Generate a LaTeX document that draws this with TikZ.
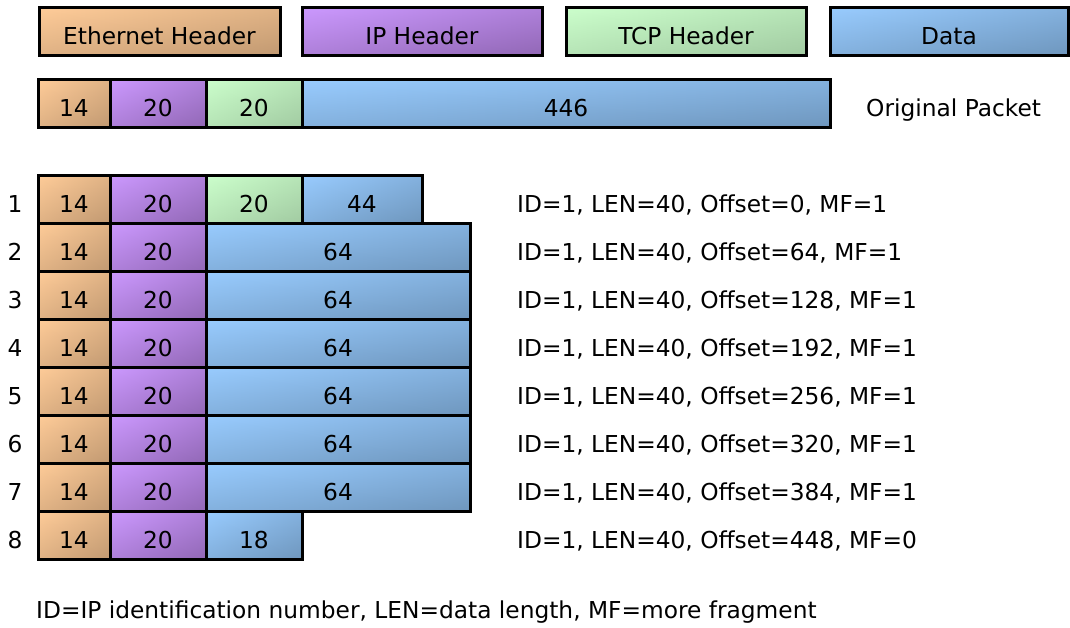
\documentclass[tikz,border=0pt]{standalone}
\usepackage{fontspec}
\setmainfont{DejaVu Sans}
\definecolor{ethlight}{HTML}{FFCC99}
\definecolor{ethdark}{HTML}{C29A72}
\definecolor{iplight}{HTML}{CC99FF}
\definecolor{ipdark}{HTML}{9268B6}
\definecolor{tcplight}{HTML}{CCFFCC}
\definecolor{tcpdark}{HTML}{A2CBA2}
\definecolor{datlight}{HTML}{99CCFF}
\definecolor{datdark}{HTML}{6F97BE}
\begin{document}
\begin{tikzpicture}[x=1pt,y=-1pt,
    every node/.style={font=\fontsize{23.3}{28}\selectfont,text height=30pt,text depth=4pt,inner sep=0pt},
    twotone/.style 2 args={path picture={
        \shade[left color=#1,right color=#2] (path picture bounding box.south west) rectangle (path picture bounding box.north east);
        \shade[top color=#1,bottom color=#2,opacity=.5] (path picture bounding box.south west) rectangle (path picture bounding box.north east);}},
    cell/.style={draw,line width=3pt,minimum height=48pt},
    eth/.style={cell,twotone={ethlight}{ethdark}},
    ip/.style={cell,twotone={iplight}{ipdark}},
    tcp/.style={cell,twotone={tcplight}{tcpdark}},
    dat/.style={cell,twotone={datlight}{datdark}}]
\useasboundingbox (0,0) rectangle (1070,627);
%Legend
    \node[eth,minimum width=241pt] (leth) at (159.5,31) {Ethernet Header};
    \node[ip,minimum width=240pt] (lip) at (422,31) {IP Header};
    \node[tcp,minimum width=240pt] (ltcp) at (686,31) {TCP Header};
    \node[dat,minimum width=238pt] (ldata) at (949,31) {Data};
%Original packet
    \node[eth,minimum width=72pt] (oeth) at (74,103) {14};
    \node[ip,minimum width=96pt] (oip) at (158,103) {20};
    \node[tcp,minimum width=96pt] (otcp) at (254,103) {20};
    \node[dat,minimum width=528pt] (odata) at (566,103) {446};
    \node[anchor=west] (orig) at (866,103) {Original Packet};
%Fragments: number, ethernet and ip header, info text
    \foreach \r in {1,...,8}
        {
        \pgfmathsetmacro\yc{199+48*(\r-1)}
        \pgfmathtruncatemacro\off{64*(\r-1)}
        \pgfmathtruncatemacro\mf{\r<8}
        \node (n\r) at (15,\yc) {\r};
        \node[eth,minimum width=72pt] (f\r-eth) at (74,\yc) {14};
        \node[ip,minimum width=96pt] (f\r-ip) at (158,\yc) {20};
        \node[anchor=west] (i\r) at (517,\yc) {ID=1, LEN=40, Offset=\off, MF=\mf};
    }
%Data parts of the fragments
    \node[tcp,minimum width=96pt] (f1-tcp) at (254,199) {20};
    \node[dat,minimum width=120pt] (f1-data) at (362,199) {44};
    \foreach \r in {2,...,7}
        {
        \pgfmathsetmacro\yc{199+48*(\r-1)}
        \node[dat,minimum width=264pt] (f\r-data) at (338,\yc) {64};
    }
    \node[dat,minimum width=96pt] (f8-data) at (254,535) {18};
    \node[anchor=west] (note) at (36,605) {ID=IP identification number, LEN=data length, MF=more fragment};
\end{tikzpicture}
\end{document}
